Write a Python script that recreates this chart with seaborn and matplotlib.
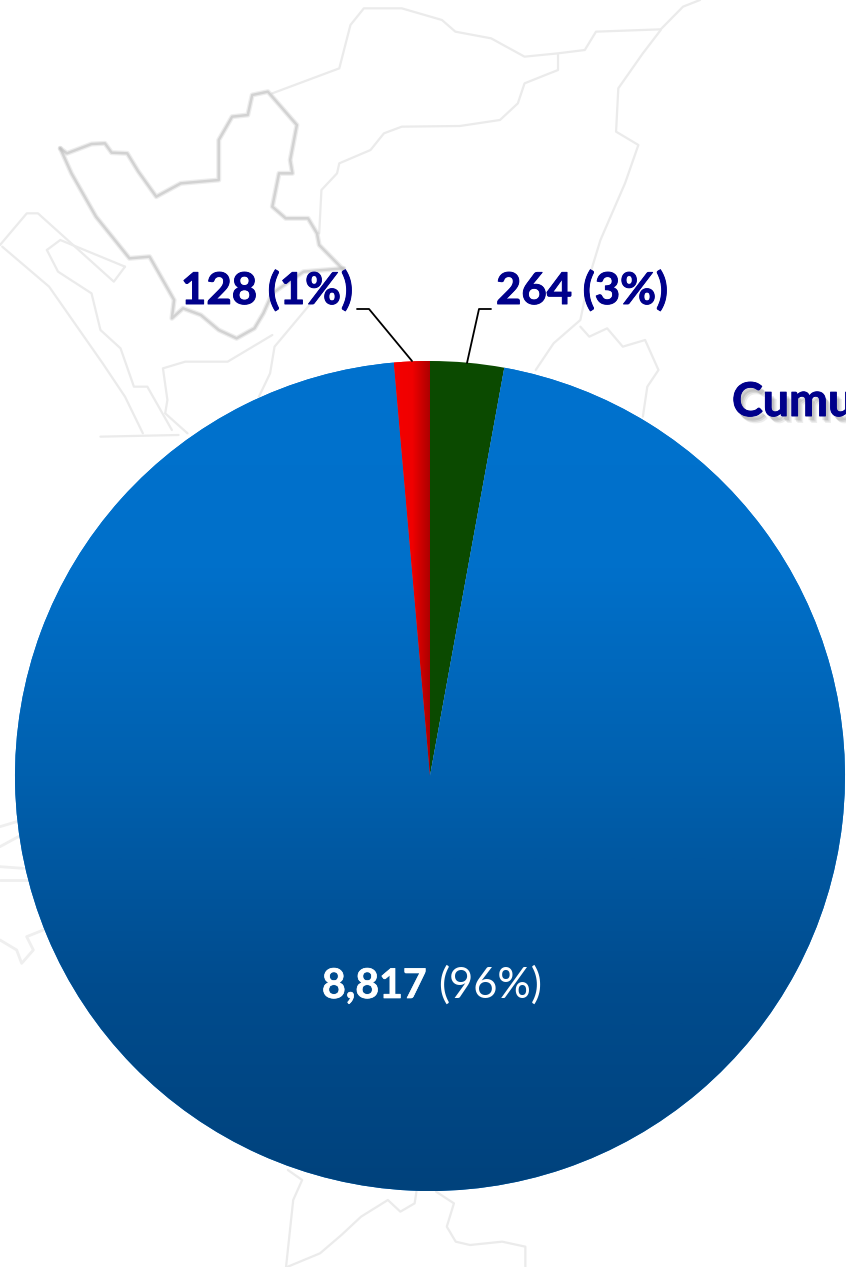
import numpy as np
import matplotlib
matplotlib.use("Agg")
import matplotlib.pyplot as plt
import matplotlib.patheffects as pe
import seaborn as sns
from matplotlib.colors import LinearSegmentedColormap

# ---- data ----
categories = ["Green", "Blue", "Red"]
values = [264, 8817, 128]
pct_labels = ["3%", "96%", "1%"]
slice_colors = ["#0B4A00", "#0072CE", "#F00000"]

W, H = 846, 1267
CX, CY, R = 430, 776, 415

sns.set_theme(style="white")
plt.rcParams["font.family"] = ["Lato", "DejaVu Sans"]

fig = plt.figure(figsize=(W / 100, H / 100), dpi=100, facecolor="white")

# ---- faint map outline behind the pie ----
bg = fig.add_axes([0, 0, 1, 1], zorder=0)
bg.set_xlim(0, W); bg.set_ylim(H, 0); bg.axis("off")

upper_faint = [
    [(610,280),(760,205),(785,75),(815,25),(900,25),(990,60),(1020,95),(1100,115),(1175,170),(1250,160),(1310,150),(1335,95),(1480,88),(1530,20),(1568,0)],
    [(1250,165),(1250,210),(1175,250),(1160,310),(1120,360),(1030,378),(900,380),(860,400),(830,450),(760,490),(755,520),(720,570),(715,700)],
    [(1480,90),(1440,160),(1385,265),(1380,395),(1430,435),(1400,550),(1345,720),(1320,830),(1300,960),(1240,1030),(1200,1110)],
    [(1300,980),(1320,1010),(1360,985),(1395,1040),(1445,1020),(1475,1110),(1450,1160),(1440,1250)],
    [(715,880),(615,1040),(605,1120),(580,1190)],
    [(610,1005),(510,1085),(415,1085),(365,1105),(375,1200),(370,1240),(420,1300)],
    [(0,735),(60,640),(85,640),(255,845),(280,800)],
    [(105,750),(135,720),(280,800)],
    [(105,750),(130,815),(205,880),(225,990),(270,1045),(300,1160),(330,1160),(385,1290)],
    [(5,740),(110,860),(230,1090),(280,1190),(320,1300)],
    [(225,1310),(400,1305)],
]
upper_strong = [
    [(135,445),(150,460),(205,432),(235,430),(250,458),(285,460),(310,515),(350,590),(405,550),(490,540),(490,420),(520,350),(555,345),(565,285),(600,275),(665,375),(650,480),(655,520),(625,520),(610,620),(640,655),(690,655),(710,700),(715,735),(770,810)],
    [(135,445),(160,520),(215,650),(290,775),(335,770),(390,900),(385,955),(410,925),(450,945),(490,990),(530,1015),(570,985),(590,940),(610,880),(680,815),(770,805)],
]
# traced from the bottom part, origin (220,1150), x scale 2.8, y scale 3
bottom_faint = [
    [(190,60),(230,90),(205,150),(195,250),(185,350)],
    [(190,350),(280,310),(340,255),(395,200),(470,150),(505,185),(545,160),(550,125)],
    [(605,125),(655,160),(635,230),(660,275),(700,285),(790,275),(855,290),(855,350)],
]
# traced at 3x from the left part, origin (0,780)
left_faint = [
    [(0,140),(50,125)],
    [(0,200),(55,170)],
    [(0,260),(70,265)],
    [(0,300),(85,300)],
    [(0,480),(50,510),(65,550),(100,510),(80,470),(130,450)],
]
def draw(segs, sx, sy, ox, oy, color, lw, alpha=1.0):
    for s in segs:
        x = [ox + p[0] / sx for p in s]
        y = [oy + p[1] / sy for p in s]
        bg.plot(x, y, color=color, lw=lw, alpha=alpha, solid_capstyle="round", solid_joinstyle="round")

draw(upper_faint, 2.24, 3, 0, 0, "#EBEBEB", 1.6)
draw(bottom_faint, 2.8, 3, 220, 1150, "#EBEBEB", 1.6)
draw(left_faint, 3, 3, 0, 780, "#EFEFEF", 2.0)
draw(upper_strong, 2.24, 3, 0, 0, "#C4C4C4", 3.6, 0.3)
draw(upper_strong, 2.24, 3, 0, 0, "#BDBDBD", 1.8, 0.55)

# ---- pie ----
ax = fig.add_axes([(CX - R) / W, 1 - (CY + R) / H, 2 * R / W, 2 * R / H], zorder=1)
ax.patch.set_alpha(0)
wedges, _ = ax.pie(values, colors=slice_colors, startangle=90, counterclock=False,
                   radius=1, wedgeprops=dict(linewidth=0))
ax.set_aspect("equal"); ax.axis("off")

# gradient fills clipped to the wedges
blue_cm = LinearSegmentedColormap.from_list("b", ["#0072CE", "#0070CA", "#0060AE", "#004C8E", "#00427C"])
im = ax.imshow(np.linspace(0, 1, 512).reshape(-1, 1), cmap=blue_cm, extent=(-1, 1, -1, 1),
               aspect="auto", origin="upper", zorder=2)
im.set_clip_path(wedges[1])
red_cm = LinearSegmentedColormap.from_list("r", ["#F40000", "#F00000", "#A80000"])
x_left = np.sin(np.deg2rad(-360 * values[2] / sum(values)))
im2 = ax.imshow(np.linspace(0, 1, 128).reshape(1, -1), cmap=red_cm, extent=(x_left, 0, -1, 1),
                aspect="auto", zorder=2)
im2.set_clip_path(wedges[2])
ax.set_xlim(-1, 1); ax.set_ylim(-1, 1)

# ---- labels ----
navy = "#00008B"
def px(x, y):
    return x / W, 1 - y / H

thick = [pe.withStroke(linewidth=0.7, foreground=navy)]
thick_w = [pe.withStroke(linewidth=0.5, foreground="white")]

fig.text(*px(181, 304), f"{values[2]} ({pct_labels[2]})", color=navy, fontsize=31.5,
         fontweight="bold", zorder=5, path_effects=thick)
fig.text(*px(496, 304), f"{values[0]} ({pct_labels[0]})", color=navy, fontsize=31.5,
         fontweight="bold", zorder=5, path_effects=thick)

fig.text(*px(322, 998), f"{values[1]:,}", color="white", fontsize=29.5,
         fontweight="bold", zorder=5, path_effects=thick_w)
fig.text(*px(438, 998), f"({pct_labels[1]})", color="white", fontsize=30,
         fontweight="normal", zorder=5)

t = fig.text(*px(732, 416), "Cumu", color=navy, fontsize=33.5, fontweight="bold", zorder=5)
t.set_path_effects([
    pe.SimplePatchShadow(offset=(4, -5), shadow_rgbFace="#555555", alpha=0.10),
    pe.SimplePatchShadow(offset=(3, -4), shadow_rgbFace="#555555", alpha=0.14),
    pe.SimplePatchShadow(offset=(2, -3), shadow_rgbFace="#555555", alpha=0.16),
    pe.withStroke(linewidth=0.7, foreground=navy),
])

# leader lines
lead = fig.add_axes([0, 0, 1, 1], zorder=4)
lead.set_xlim(0, W); lead.set_ylim(H, 0); lead.axis("off"); lead.patch.set_alpha(0)
lead.plot([357, 369, 412], [309, 309, 361], color="black", lw=1.3)
lead.plot([491, 479, 467], [309, 309, 363], color="black", lw=1.3)

fig.savefig("out.png", dpi=100, facecolor="white")
